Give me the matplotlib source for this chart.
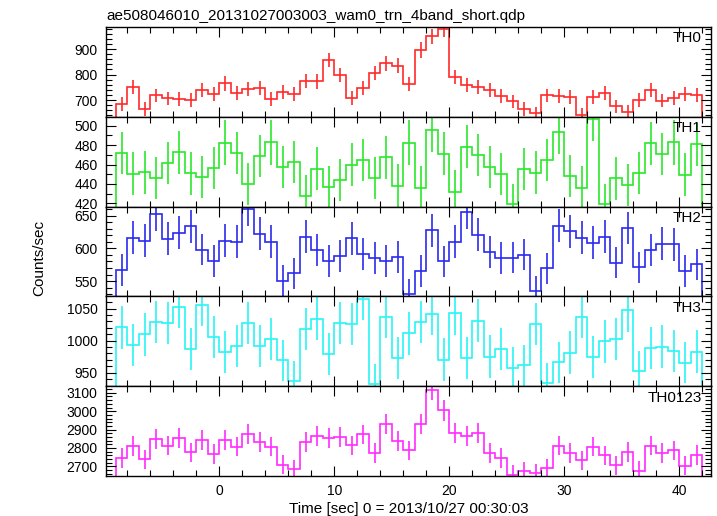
import numpy as np
import matplotlib
matplotlib.use('Agg')
import matplotlib.pyplot as plt
from matplotlib.ticker import MultipleLocator

plt.rcParams['font.family'] = ['Liberation Sans', 'DejaVu Sans']

title = 'ae508046010_20131027003003_wam0_trn_4band_short.qdp'
xlabel = 'Time [sec] 0 = 2013/10/27 00:30:03'
ylabel = 'Counts/sec'

# 1 s bins from -9 to 42 s
edges = np.arange(-9, 43)
centers = edges[:-1] + 0.5

th0 = [684, 751, 665, 718, 706, 704, 700, 739, 724, 765, 729, 744, 748, 705, 731, 724,
       776, 773, 857, 798, 709, 747, 807, 845, 835, 763, 897, 950, 980, 790, 759, 752,
       739, 717, 695, 665, 648, 718, 716, 712, 642, 712, 727, 676, 654, 700, 739, 697,
       709, 725, 720]
th0_err = [27, 28, 26, 27, 27, 27, 27, 27, 27, 28, 27, 27, 27, 27, 27, 27,
           28, 28, 29, 28, 27, 27, 28, 29, 29, 28, 30, 31, 31, 28, 28, 27,
           27, 27, 26, 26, 25, 27, 27, 27, 25, 27, 27, 26, 26, 26, 27, 26,
           27, 27, 27]

th1 = [472, 450.6, 452, 446, 461.5, 472.5, 451, 447, 456.4, 482.5, 472, 440, 469, 483,
       457.4, 462.6, 428, 455.7, 437, 444, 460, 464.6, 446, 467.4, 438.2, 482.5, 436,
       495.5, 471.2, 432, 478.4, 469.8, 457.4, 450.2, 419.3, 455.4, 451.6, 464.6, 493.5,
       448.2, 436, 507, 419, 445.8, 439, 451.3, 481.8, 470.8, 483, 449.5, 481]
th1_err = [22, 22, 22, 22, 22, 22, 22, 22, 22, 23, 22, 22, 22, 23,
           22, 22, 21, 22, 22, 22, 22, 22, 22, 22, 22, 23, 22,
           23, 22, 22, 22, 22, 22, 22, 21, 22, 22, 22, 23,
           22, 22, 23, 21, 22, 22, 22, 22, 22, 23, 22, 22]

th2 = [567.3, 616, 611.4, 652.5, 614.5, 623.6, 633.8, 598.2, 581, 611.4, 610.4, 660.7,
       622.6, 610.4, 550, 561.7, 618, 597.2, 581, 588.6, 615.5, 591.6, 585.5, 580.5, 587,
       530.2, 565.2, 627.7, 580, 610, 655, 621, 594.2, 585.5, 586, 590.6, 534.3, 569.3,
       634.3, 626, 616.5, 608.9, 617.5, 578.4, 631.2, 570.8, 597.7, 607.4, 606.3, 565.2,
       575.4]
th2_err = [24, 25, 25, 26, 25, 25, 25, 24, 24, 25, 25, 26,
           25, 25, 24, 24, 25, 24, 24, 24, 25, 24, 24, 24, 24,
           23, 24, 25, 24, 25, 26, 25, 24, 24, 24, 24, 23, 24,
           25, 25, 25, 25, 25, 24, 25, 24, 24, 25, 25, 24,
           24]

th3 = [1020.7, 992.9, 1009.7, 1029, 1028, 1053, 986.6, 1056.3, 1005.5, 982, 991.9, 1028,
       991.4, 1002.4, 969.4, 936.9, 1018.6, 1034.3, 978.8, 1027.5, 1026.4, 1065.7, 931.7,
       1036.4, 972.5, 1011.3, 1029.6, 1042.1, 970.4, 1042.7, 972.5, 1031.2, 975.1, 987.2,
       957.8, 961.5, 1025.9, 933.8, 966.2, 981.4, 1037.4, 974.6, 998.7, 1002.9, 1047.9,
       952.6, 988.2, 990.8, 983.5, 965.7, 983]
th3_err = [33, 33, 33, 33, 33, 34, 33, 34, 33, 33, 33, 33,
           33, 33, 32, 32, 33, 33, 33, 33, 33, 34, 32,
           33, 33, 33, 33, 34, 33, 34, 33, 33, 33, 33,
           32, 32, 33, 32, 32, 33, 33, 33, 33, 33, 34,
           32, 33, 33, 33, 32, 33]

th0123 = [2746, 2811, 2739, 2850, 2812, 2855, 2775, 2843, 2768, 2845, 2807, 2877, 2834,
          2807, 2709, 2684, 2830, 2866, 2855, 2861, 2814, 2873, 2773, 2932, 2836, 2786,
          2932, 3118, 3004, 2882, 2866, 2879, 2773, 2745, 2655, 2673, 2662, 2689, 2812,
          2771, 2732, 2807, 2759, 2705, 2777, 2675, 2812, 2771, 2786, 2704, 2761]
th0123_err = [53, 53, 52, 54, 53, 54, 53, 54, 53, 54, 53, 54, 54,
              53, 52, 52, 54, 54, 54, 54, 53, 54, 53, 55, 54, 53,
              55, 56, 55, 54, 54, 54, 53, 53, 52, 52, 52, 52, 53,
              53, 52, 53, 53, 52, 53, 52, 53, 53, 53, 52, 53]

panels = [
    ('TH0', th0, th0_err, '#ff2a2a', (634, 987), 100, 20),
    ('TH1', th1, th1_err, '#2ae82a', (416.6, 509.3), 20, 10),
    ('TH2', th2, th2_err, '#2a2aee', (526.7, 663.7), 50, 10),
    ('TH3', th3, th3_err, '#2af5f5', (929, 1069), 50, 10),
    ('TH0123', th0123, th0123_err, '#ff2aff', (2647, 3136), 100, 20),
]

fig = plt.figure(figsize=(7.17, 5.16), dpi=100)
left, right = 106 / 717, 711 / 717
top_px, bot_px = 27, 476
h_px = (bot_px - top_px) / 5

for i, (name, vals, errs, col, ylim, major, minor) in enumerate(panels):
    y0 = 1 - (top_px + (i + 1) * h_px) / 516
    ax = fig.add_axes([left, y0, right - left, h_px / 516])
    ax.stairs(vals, edges, color=col, lw=1.2)
    ax.errorbar(centers, vals, yerr=errs, fmt='none', ecolor=col, elinewidth=1.2, capsize=0)
    ax.set_xlim(-9.85, 42.75)
    ax.set_ylim(*ylim)
    ax.xaxis.set_major_locator(MultipleLocator(10))
    ax.xaxis.set_minor_locator(MultipleLocator(2))
    ax.yaxis.set_major_locator(MultipleLocator(major))
    ax.yaxis.set_minor_locator(MultipleLocator(minor))
    ax.tick_params(which='both', direction='in', top=True, right=True, labelsize=10, pad=6)
    ax.tick_params(which='major', length=7, width=0.8)
    ax.tick_params(which='minor', length=4, width=0.8)
    for s in ax.spines.values():
        s.set_linewidth(1.0)
    if i < 4:
        ax.tick_params(labelbottom=False)
    ax.text(0.985, 0.95, name, transform=ax.transAxes, ha='right', va='top', fontsize=11)
    if i == 0:
        ax.set_title(title, loc='left', fontsize=11, pad=5, x=0.0)
    if i == 4:
        ax.set_xlabel(xlabel, fontsize=11, labelpad=3)

fig.text(0.055, 0.50, ylabel, rotation=90, ha='center', va='center', fontsize=11)

fig.savefig('out.png', dpi=100)
